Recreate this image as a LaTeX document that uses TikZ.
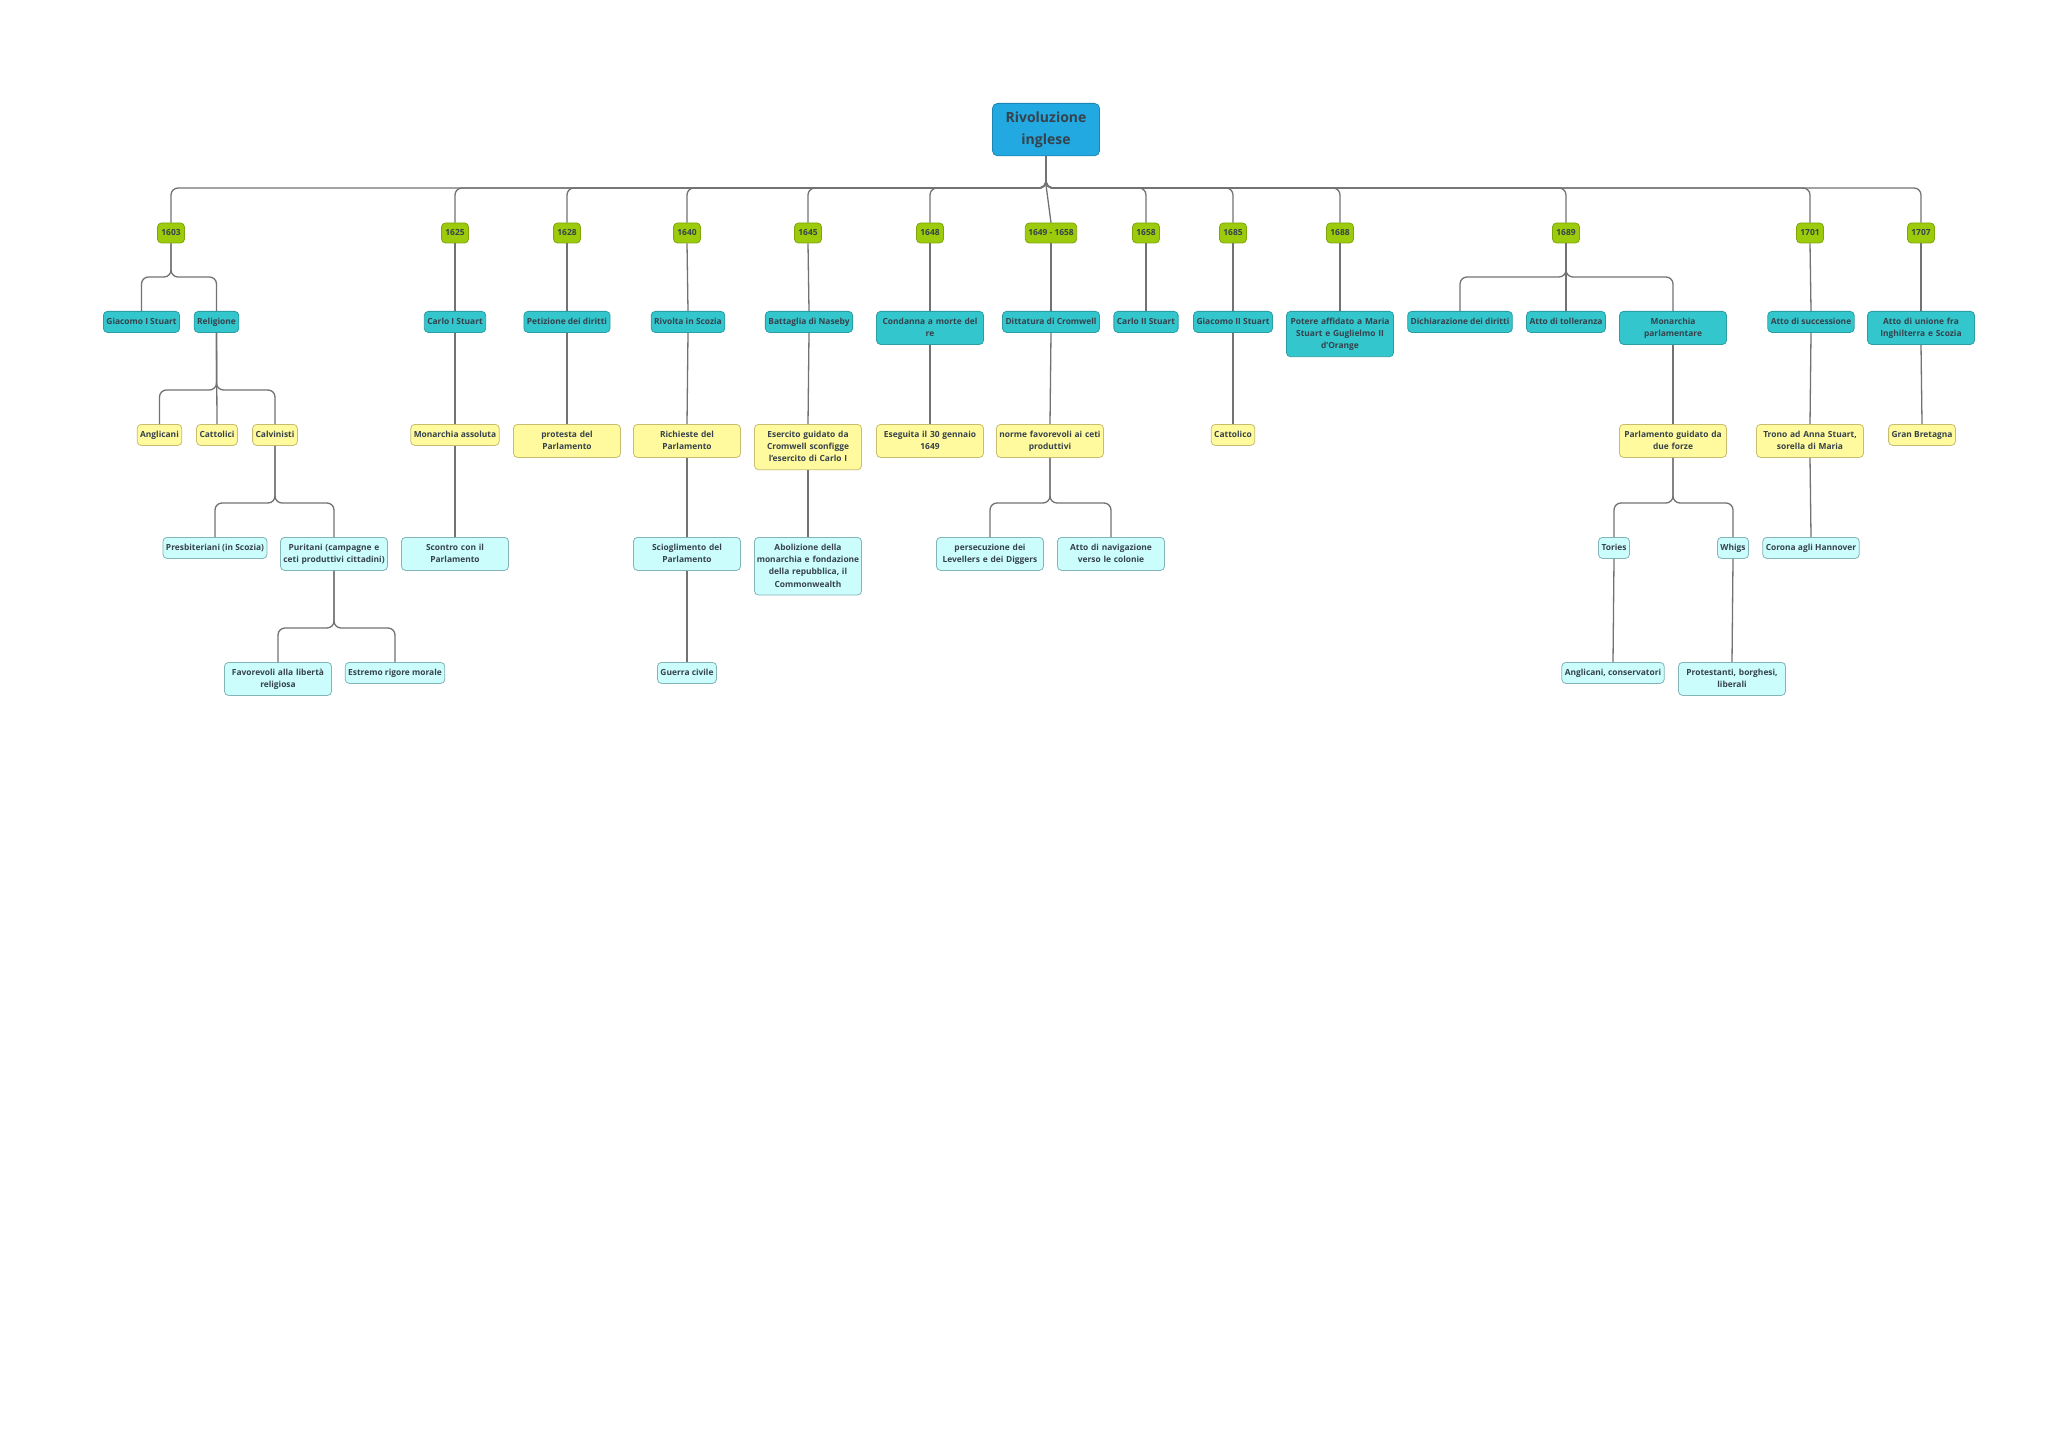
\documentclass[tikz,border=0pt]{standalone}
\usepackage{fontspec}
\setmainfont{Open Sans}
\usepackage{xcolor}
\usepackage{tikz}
\hyphenpenalty=10000
\exhyphenpenalty=10000

\definecolor{rootblue}{HTML}{22A9E1}
\definecolor{yeargreen}{HTML}{9BCB0A}
\definecolor{yearedge}{HTML}{7EA60A}
\definecolor{topicteal}{HTML}{33C6CC}
\definecolor{topicedge}{HTML}{2A9EA3}
\definecolor{factyellow}{HTML}{FFFA9E}
\definecolor{factedge}{HTML}{C8BD6E}
\definecolor{notecyan}{HTML}{CCFDFD}
\definecolor{noteedge}{HTML}{82B4B8}
\definecolor{txtgray}{HTML}{36424C}
\definecolor{linkgray}{HTML}{727272}

\tikzset{
  box/.style={draw, rounded corners=4pt, line width=0.8pt, align=center,
    font=\bfseries\fontsize{8.4}{12.3}\selectfont, text=txtgray,
    inner xsep=3pt, inner ysep=4.2pt, anchor=north, minimum height=21pt,
    execute at begin node=\strut, execute at end node=\strut},
  wide/.style={text width=107pt, inner xsep=0pt},
  rootbox/.style={box, fill=rootblue, draw=rootblue!80!black,
    font=\bfseries\fontsize{14}{22}\selectfont, wide, minimum height=51pt,
    rounded corners=5pt},
  yearbox/.style={box, fill=yeargreen, draw=yearedge, anchor=center,
    minimum width=27pt, minimum height=20pt, inner ysep=1pt},
  topicbox/.style={box, fill=topicteal, draw=topicedge},
  factbox/.style={box, fill=factyellow, draw=factedge},
  notebox/.style={box, fill=notecyan, draw=noteedge},
  link/.style={draw=linkgray, line width=1.3pt},
  fork/.style={link, rounded corners=7pt}
}

\begin{document}
\begin{tikzpicture}[x=1pt, y=-1pt]
\useasboundingbox[fill=white] (0,0) rectangle (2048,1447);

% root
\node[rootbox] (root) at (1046,103) {Rivoluzione\\inglese};

% years
\node[yearbox] (y1603) at (171,233) {1603};
\node[yearbox] (y1625) at (455,233) {1625};
\node[yearbox] (y1628) at (567,233) {1628};
\node[yearbox] (y1640) at (687,233) {1640};
\node[yearbox] (y1645) at (808,233) {1645};
\node[yearbox] (y1648) at (930,233) {1648};
\node[yearbox] (y1649) at (1051,233) {1649 - 1658};
\node[yearbox] (y1658) at (1146,233) {1658};
\node[yearbox] (y1685) at (1233,233) {1685};
\node[yearbox] (y1688) at (1340,233) {1688};
\node[yearbox] (y1689) at (1566,233) {1689};
\node[yearbox] (y1701) at (1810,233) {1701};
\node[yearbox] (y1707) at (1921,233) {1707};

% second level
\node[topicbox] (giacomo) at (141.5,311) {Giacomo I Stuart};
\node[topicbox] (religione) at (216.5,311) {Religione};
\node[topicbox] (carlo) at (455,311) {Carlo I Stuart};
\node[topicbox] (petizione) at (567,311) {Petizione dei diritti};
\node[topicbox] (rivolta) at (688,311) {Rivolta in Scozia};
\node[topicbox] (naseby) at (809,311) {Battaglia di Naseby};
\node[topicbox, wide] (condanna) at (930,311) {Condanna a morte del\\re};
\node[topicbox] (dittatura) at (1051,311) {Dittatura di Cromwell};
\node[topicbox] (carlodue) at (1146,311) {Carlo II Stuart};
\node[topicbox] (giacomodue) at (1233,311) {Giacomo II Stuart};
\node[topicbox, wide] (potere) at (1340,311) {Potere affidato a Maria\\Stuart e Guglielmo II\\d'Orange};
\node[topicbox] (dichiarazione) at (1460,311) {Dichiarazione dei diritti};
\node[topicbox] (tolleranza) at (1566,311) {Atto di tolleranza};
\node[topicbox, wide] (monarchiap) at (1673,311) {Monarchia\\parlamentare};
\node[topicbox] (successione) at (1811,311) {Atto di successione};
\node[topicbox, wide] (unione) at (1921,311) {Atto di unione fra\\Inghilterra e Scozia};

% third level
\node[factbox] (anglicani) at (159.5,424) {Anglicani};
\node[factbox] (cattolici) at (217,424) {Cattolici};
\node[factbox] (calvinisti) at (275,424) {Calvinisti};
\node[factbox] (assoluta) at (455,424) {Monarchia assoluta};
\node[factbox, wide] (protesta) at (567,424) {protesta del\\Parlamento};
\node[factbox, wide] (richieste) at (687,424) {Richieste del\\Parlamento};
\node[factbox, wide] (esercito) at (808,424) {Esercito guidato da\\Cromwell sconfigge\\l'esercito di Carlo I};
\node[factbox, wide] (eseguita) at (930,424) {Eseguita il 30 gennaio\\1649};
\node[factbox, wide] (norme) at (1050,424) {norme favorevoli ai ceti\\produttivi};
\node[factbox] (cattolico) at (1233,424) {Cattolico};
\node[factbox, wide] (guidato) at (1673,424) {Parlamento guidato da\\due forze};
\node[factbox, wide] (trono) at (1810,424) {Trono ad Anna Stuart,\\sorella di Maria};
\node[factbox] (granbretagna) at (1922,424) {Gran Bretagna};

% fourth level
\node[notebox] (presbiteriani) at (215,537) {Presbiteriani (in Scozia)};
\node[notebox, wide] (puritani) at (334,537) {Puritani (campagne e\\ceti produttivi cittadini)};
\node[notebox, wide] (scontro) at (455,537) {Scontro con il\\Parlamento};
\node[notebox, wide] (scioglimento) at (687,537) {Scioglimento del\\Parlamento};
\node[notebox, wide] (abolizione) at (808,537) {Abolizione della\\monarchia e fondazione\\della repubblica, il\\Commonwealth};
\node[notebox, wide] (persecuzione) at (990,537) {persecuzione dei\\Levellers e dei Diggers};
\node[notebox, wide] (navigazione) at (1111,537) {Atto di navigazione\\verso le colonie};
\node[notebox] (tories) at (1614,537) {Tories};
\node[notebox] (whigs) at (1733,537) {Whigs};
\node[notebox] (hannover) at (1811,537) {Corona agli Hannover};

% fifth level
\node[notebox, wide] (favorevoli) at (278,662) {Favorevoli alla libertà\\religiosa};
\node[notebox] (rigore) at (395,662) {Estremo rigore morale};
\node[notebox] (guerra) at (687,662) {Guerra civile};
\node[notebox] (conservatori) at (1613,662) {Anglicani, conservatori};
\node[notebox, wide] (protestanti) at (1732,662) {Protestanti, borghesi,\\liberali};

% branching links
\foreach \c in {y1603,y1625,y1628,y1640,y1645,y1648,y1658,y1685,y1688,y1689,y1701,y1707}
  \draw[fork] (root.south) -- (root.south |- 0,188) -| (\c.north);
\foreach \p/\c/\h in {y1603/giacomo/277, y1603/religione/277,
    y1689/dichiarazione/277, y1689/monarchiap/277,
    religione/anglicani/390, religione/calvinisti/390,
    calvinisti/presbiteriani/503, calvinisti/puritani/503,
    norme/persecuzione/503, norme/navigazione/503,
    guidato/tories/503, guidato/whigs/503,
    puritani/favorevoli/628, puritani/rigore/628}
  \draw[fork] (\p.south) -- (\p.south |- 0,\h) -| (\c.north);
\draw[link] (root.south) -- (root.south |- 0,185) -- (y1649.north);

% straight links
\foreach \p/\c in {y1625/carlo, y1628/petizione, y1640/rivolta,
    y1645/naseby, y1648/condanna, y1649/dittatura, y1658/carlodue,
    y1685/giacomodue, y1688/potere, y1689/tolleranza, y1701/successione,
    y1707/unione, religione/cattolici, carlo/assoluta, petizione/protesta,
    rivolta/richieste, naseby/esercito, condanna/eseguita, dittatura/norme,
    giacomodue/cattolico, monarchiap/guidato, successione/trono,
    unione/granbretagna, assoluta/scontro, richieste/scioglimento,
    esercito/abolizione, trono/hannover, scioglimento/guerra,
    tories/conservatori, whigs/protestanti}
  \draw[link] (\p.south) -- (\c.north);
\end{tikzpicture}
\end{document}
